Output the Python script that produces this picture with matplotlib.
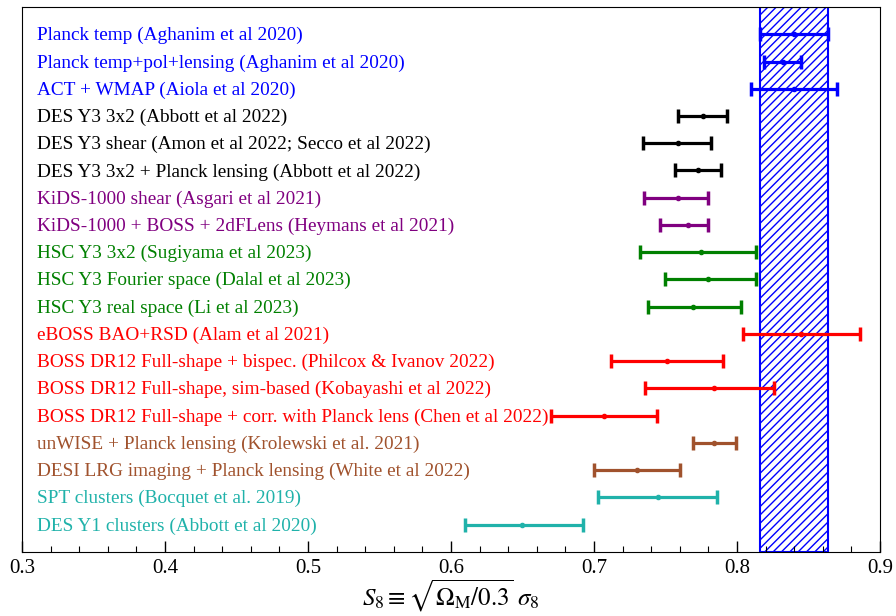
import numpy as np
import matplotlib
matplotlib.use('Agg')
import matplotlib.pyplot as plt
from matplotlib.ticker import MultipleLocator

plt.rcParams['font.family'] = 'Liberation Serif'
plt.rcParams['mathtext.fontset'] = 'stix'

# dados
nomes = [
    'Planck temp (Aghanim et al 2020)',
    'Planck temp+pol+lensing (Aghanim et al 2020)',
    'ACT + WMAP (Aiola et al 2020)',
    'DES Y3 3x2 (Abbott et al 2022)',
    'DES Y3 shear (Amon et al 2022; Secco et al 2022)',
    'DES Y3 3x2 + Planck lensing (Abbott et al 2022)',
    'KiDS-1000 shear (Asgari et al 2021)',
    'KiDS-1000 + BOSS + 2dFLens (Heymans et al 2021)',
    'HSC Y3 3x2 (Sugiyama et al 2023)',
    'HSC Y3 Fourier space (Dalal et al 2023)',
    'HSC Y3 real space (Li et al 2023)',
    'eBOSS BAO+RSD (Alam et al 2021)',
    'BOSS DR12 Full-shape + bispec. (Philcox & Ivanov 2022)',
    'BOSS DR12 Full-shape, sim-based (Kobayashi et al 2022)',
    'BOSS DR12 Full-shape + corr. with Planck lens (Chen et al 2022)',
    'unWISE + Planck lensing (Krolewski et al. 2021)',
    'DESI LRG imaging + Planck lensing (White et al 2022)',
    'SPT clusters (Bocquet et al. 2019)',
    'DES Y1 clusters (Abbott et al 2020)',
]
s8 = [0.840, 0.832, 0.840, 0.776, 0.759, 0.773, 0.759, 0.766, 0.775, 0.780,
      0.769, 0.845, 0.751, 0.784, 0.707, 0.784, 0.730, 0.745, 0.650]
s8_lo = [0.816, 0.819, 0.810, 0.759, 0.734, 0.757, 0.735, 0.746, 0.732, 0.750,
         0.738, 0.804, 0.712, 0.736, 0.670, 0.769, 0.700, 0.703, 0.610]
s8_hi = [0.864, 0.845, 0.870, 0.793, 0.782, 0.789, 0.780, 0.780, 0.813, 0.813,
         0.803, 0.886, 0.790, 0.826, 0.744, 0.799, 0.760, 0.786, 0.692]
cores = ['blue'] * 3 + ['black'] * 3 + ['purple'] * 2 + ['green'] * 3 + ['red'] * 4 \
    + ['sienna'] * 2 + ['lightseagreen'] * 2
faixa_planck = (0.816, 0.864)

fig = plt.figure(figsize=(8.96, 6.16), dpi=100)
ax = fig.add_axes([0.0246, 0.104, 0.9575, 0.8846])

ax.axvspan(faixa_planck[0], faixa_planck[1], facecolor='white', edgecolor='blue',
           hatch='////', linewidth=1.5, zorder=0)

for i in range(len(nomes)):
    err = [[s8[i] - s8_lo[i]], [s8_hi[i] - s8[i]]]
    ax.errorbar(s8[i], i, xerr=err, fmt='o', color=cores[i], ms=3,
                elinewidth=2.3, capsize=5, capthick=2.5, zorder=3)
    ax.text(0.0175, i + 0.05, nomes[i], color=cores[i], fontsize=13.9,
            va='center', ha='left', transform=ax.get_yaxis_transform())

ax.set_xlim(0.3, 0.9)
ax.set_ylim(len(nomes), -1)
ax.set_yticks([])
ax.xaxis.set_major_locator(MultipleLocator(0.1))
ax.xaxis.set_minor_locator(MultipleLocator(0.02))
ax.xaxis.set_major_formatter(plt.FuncFormatter(lambda v, p: f'{v:.1f}'))
ax.tick_params(axis='x', which='major', direction='in', length=8, width=1, labelsize=15, pad=5)
ax.tick_params(axis='x', which='minor', direction='in', length=4, width=0.8)
ax.set_xlabel(r'$S_8 \equiv \sqrt{\Omega_{\rm M}/0.3}\;\sigma_8$', fontsize=18, labelpad=0)

plt.savefig('out.png', dpi=100)
